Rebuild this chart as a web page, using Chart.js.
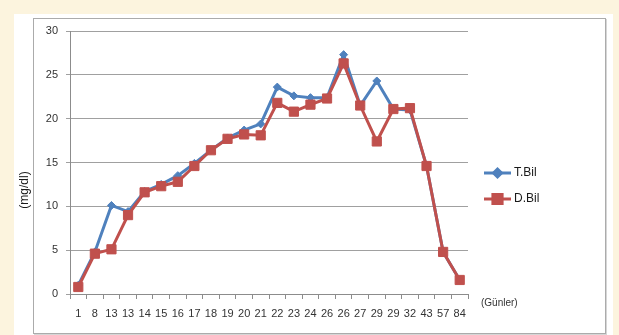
<!DOCTYPE html>
<html>
<head>
<meta charset="utf-8">
<script src="https://cdn.jsdelivr.net/npm/chart.js@4.4.0/dist/chart.umd.min.js"></script>
<style>
  html, body { margin: 0; padding: 0; }
  body { width: 619px; height: 335px; background: #fcf4de; position: relative; overflow: hidden; }
  #panel { position: absolute; left: 14px; top: 14px; width: 599px; height: 321px; background: #ffffff; }
  #frame { position: absolute; left: 33px; top: 18px; width: 571px; height: 314px; border: 1px solid #ababab; box-shadow: 1px 1px 0 #d6d6d6; }
  #chart { position: absolute; left: 0; top: 0; }
</style>
</head>
<body>
<div id="panel"></div>
<div id="frame"></div>
<canvas id="chart" width="619" height="335"></canvas>
<script>
// Days of sampling (Günler)
const days = ['1', '8', '13', '13', '14', '15', '16', '17', '18', '19', '20', '21', '22', '23', '24', '26', '26', '27', '29', '29', '32', '43', '57', '84'];
// Total bilirubin (mg/dl)
const tBil = [1.0, 4.8, 10.1, 9.4, 11.7, 12.5, 13.5, 14.9, 16.4, 17.8, 18.7, 19.4, 23.6, 22.6, 22.4, 22.4, 27.3, 21.5, 24.3, 21.1, 21.0, 14.6, 4.8, 1.6];
// Direct bilirubin (mg/dl)
const dBil = [0.8, 4.6, 5.1, 9.0, 11.6, 12.3, 12.8, 14.6, 16.4, 17.7, 18.2, 18.1, 21.8, 20.8, 21.6, 22.3, 26.3, 21.5, 17.4, 21.1, 21.2, 14.6, 4.8, 1.6];
const yTicks = [0, 5, 10, 15, 20, 25, 30];

const FONT = 'Liberation Sans, Arial, sans-serif';
const BLUE = '#4f81bd';
const RED = '#c0504d';

// Legend at the right, unit labels for both axes
const annotations = {
  id: 'annotations',
  afterDraw(chart) {
    const ctx = chart.ctx;
    ctx.save();
    // series legend
    const items = chart.data.datasets;
    const lx = 484, ly = 173, gap = 26;
    items.forEach((ds, i) => {
      const y = ly + i * gap;
      ctx.strokeStyle = ds.borderColor;
      ctx.lineWidth = ds.borderWidth;
      ctx.beginPath();
      ctx.moveTo(lx, y);
      ctx.lineTo(lx + 27, y);
      ctx.stroke();
      Chart.helpers.drawPoint(ctx, {
        pointStyle: ds.pointStyle,
        radius: ds.pointRadius,
        borderWidth: 1
      }, lx + 13.5, y);
      ctx.fillStyle = ds.pointBackgroundColor;
      ctx.strokeStyle = ds.pointBorderColor;
      ctx.fill();
      ctx.fillStyle = '#1a1a1a';
      ctx.font = '12px ' + FONT;
      ctx.textAlign = 'left';
      ctx.textBaseline = 'middle';
      ctx.fillText(ds.label, lx + 30, y);
    });
    // x unit
    ctx.fillStyle = '#333333';
    ctx.font = '10px ' + FONT;
    ctx.textAlign = 'left';
    ctx.textBaseline = 'middle';
    ctx.fillText('(Günler)', 481, 303);
    // y unit
    ctx.translate(25, 190);
    ctx.rotate(-Math.PI / 2);
    ctx.font = '12px ' + FONT;
    ctx.textAlign = 'center';
    ctx.fillStyle = '#1a1a1a';
    ctx.fillText('(mg/dl)', 0, 0);
    ctx.restore();
  }
};

new Chart(document.getElementById('chart'), {
  type: 'line',
  data: {
    labels: days,
    datasets: [
      {
        label: 'T.Bil',
        data: tBil,
        borderColor: BLUE,
        backgroundColor: BLUE,
        pointBackgroundColor: BLUE,
        pointBorderColor: BLUE,
        borderWidth: 3,
        pointStyle: 'rectRot',
        pointRadius: 4,
        pointBorderWidth: 1,
        tension: 0,
        order: 2
      },
      {
        label: 'D.Bil',
        data: dBil,
        borderColor: RED,
        backgroundColor: RED,
        pointBackgroundColor: RED,
        pointBorderColor: RED,
        borderWidth: 3,
        pointStyle: 'rect',
        pointRadius: 6.5,
        pointBorderWidth: 1,
        tension: 0,
        order: 1
      }
    ]
  },
  options: {
    responsive: false,
    animation: false,
    devicePixelRatio: 1,
    layout: { padding: { left: 0, top: 31, right: 151, bottom: 0 } },
    plugins: {
      legend: { display: false },
      tooltip: { enabled: false }
    },
    scales: {
      x: {
        type: 'category',
        offset: true,
        grid: { offset: true, drawOnChartArea: false, drawTicks: true, tickLength: 5, color: '#8c8c8c' },
        border: { display: true, color: '#8c8c8c' },
        ticks: { font: { family: FONT, size: 11 }, color: '#333333', padding: 8, maxRotation: 0, autoSkip: false },
        afterFit(scale) { scale.height = 41; }
      },
      y: {
        min: 0,
        max: 30,
        afterBuildTicks(scale) { scale.ticks = yTicks.map(v => ({ value: v })); },
        grid: { color: '#a0a0a0', tickLength: 4, lineWidth: 1 },
        border: { display: true, color: '#8c8c8c' },
        ticks: { font: { family: FONT, size: 11 }, color: '#333333', padding: 8 },
        afterFit(scale) { scale.width = 70; }
      }
    }
  },
  plugins: [annotations]
});
</script>
</body>
</html>
